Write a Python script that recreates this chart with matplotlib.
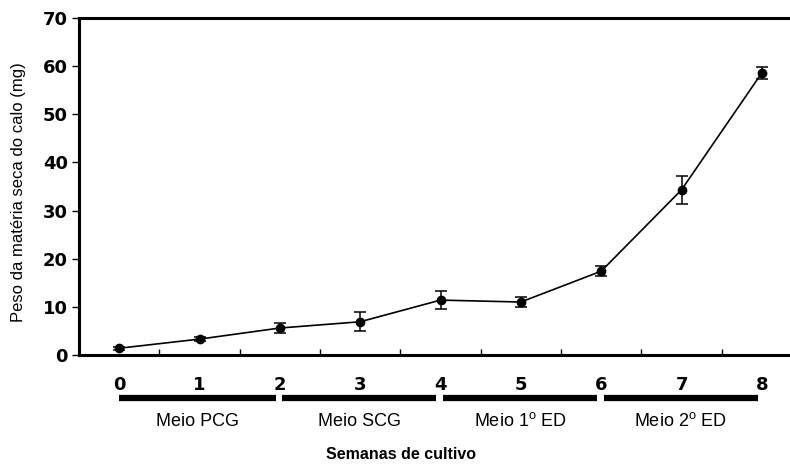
import matplotlib
matplotlib.use('Agg')
import matplotlib.pyplot as plt
import matplotlib.transforms as mtransforms

plt.rcParams['font.family'] = ['Liberation Sans', 'DejaVu Sans']

# semanas de cultivo e peso seco medio do calo (mg)
weeks = [0, 1, 2, 3, 4, 5, 6, 7, 8]
dry_weight = [1.4, 3.3, 5.6, 6.9, 11.4, 11.0, 17.4, 34.3, 58.6]
std_err = [0.3, 0.4, 1.0, 2.0, 1.8, 1.1, 1.0, 2.9, 1.3]

# meios de cultura e intervalo de semanas
media = ['Meio PCG', 'Meio SCG', r'Meio 1$^{\mathregular{o}}$ ED', r'Meio 2$^{\mathregular{o}}$ ED']
media_start = [0, 2, 4, 6]
media_end = [2, 4, 6, 8]

fig = plt.figure(figsize=(7.9, 4.65), dpi=100)
ax = fig.add_axes([0.1, 0.2366, 0.9152, 0.7247])

ax.errorbar(weeks, dry_weight, yerr=std_err, color='black', lw=1.2,
            marker='o', markersize=6, capsize=4.5, elinewidth=1.1, capthick=1.1)

ax.set_xlim(-0.5, 8.5)
ax.set_ylim(0, 70)
ax.set_yticks(range(0, 71, 10))
ax.tick_params(axis='y', direction='out', length=5, width=1, pad=3)
ax.set_yticklabels([str(v) for v in range(0, 71, 10)], family='DejaVu Sans',
                   fontweight='bold', fontsize=13)

# marcas entre categorias, rotulos nas semanas
ax.set_xticks([w + 0.5 for w in weeks[:-1]])
ax.set_xticklabels([])
ax.tick_params(axis='x', which='major', direction='in', length=4, width=1)
ax.set_xticks(weeks, minor=True)
ax.set_xticklabels([str(w) for w in weeks], minor=True, family='DejaVu Sans',
                   fontsize=13, fontweight='bold')
ax.tick_params(axis='x', which='minor', length=0, pad=15)

for side in ['left', 'bottom', 'top']:
    ax.spines[side].set_linewidth(2.2)
ax.spines['right'].set_visible(False)

trans = mtransforms.blended_transform_factory(ax.transData, fig.transFigure)
for name, s, e in zip(media, media_start, media_end):
    x0 = s + (0.03 if s > 0 else 0)
    x1 = e - 0.05
    ax.plot([x0, x1], [0.144, 0.144], color='black', lw=4.5, transform=trans,
            clip_on=False, solid_capstyle='butt')
    ax.text((x0 + x1) / 2, 0.0946, name, transform=trans, ha='center', va='center',
            fontsize=13)

fig.text(0.508, 0.022, 'Semanas de cultivo', ha='center', va='center',
         fontsize=11.5, fontweight='bold')
fig.text(0.023, 0.587, 'Peso da matéria seca do calo (mg)', rotation=90,
         ha='center', va='center', fontsize=12)

fig.savefig('out.png', dpi=100)
